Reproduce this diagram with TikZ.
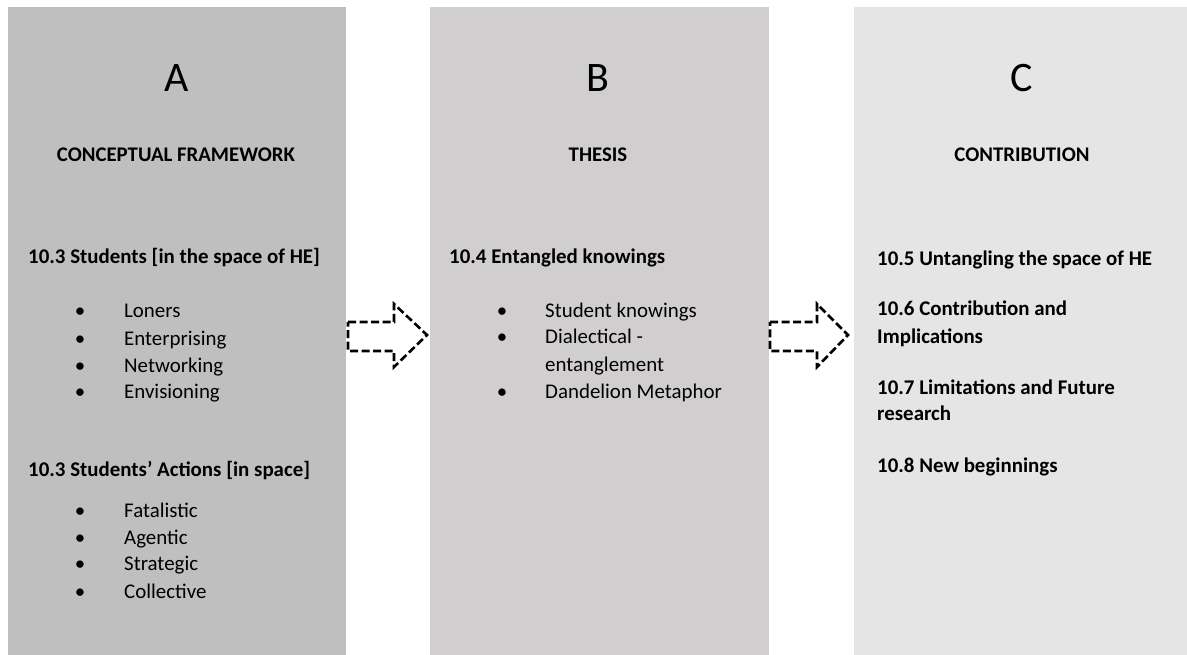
\documentclass[tikz,border=0pt]{standalone}
\usepackage{fontspec}
\setmainfont{Carlito}
\begin{document}
\begin{tikzpicture}[x=1pt,y=-1pt,
  letter/.style={font=\fontsize{42}{48}\selectfont,anchor=center,inner sep=0pt},
  title/.style={font=\fontsize{20.8}{25}\selectfont\bfseries,anchor=center,inner sep=0pt},
  head/.style={font=\fontsize{20.9}{26}\selectfont\bfseries,anchor=base west,inner sep=0pt},
  item/.style={font=\fontsize{20.9}{26}\selectfont,anchor=base west,inner sep=0pt},
  dot/.style={font=\fontsize{20.9}{26}\selectfont,anchor=base,inner sep=0pt},
  blockarrow/.style={draw=black,line width=2.6pt,dash pattern=on 8pt off 3.5pt,fill=white,line join=miter}]
\definecolor{cA}{HTML}{BFBFBF}
\definecolor{cB}{HTML}{D0CECE}
\definecolor{cC}{HTML}{E5E5E5}
\useasboundingbox (0,0) rectangle (1187,655);
\fill[white] (0,0) rectangle (1187,655);

% three columns
\fill[cA] (8,7) rectangle (346,655);
\fill[cB] (430,7) rectangle (769,655);
\fill[cC] (854,7) rectangle (1187,655);

% column A
\node[letter] (la) at (176.5,78.5) {A};
\node[title] (ta) at (176,155) {CONCEPTUAL FRAMEWORK};
\node[head] (a1) at (28,264) {10.3 Students [in the space of HE]};
\foreach \t/\y [count=\i] in {Loners/318,Enterprising/345,Networking/372,Envisioning/398}{
  \node[dot] (ab\i) at (80,\y) {\textbullet};
  \node[item] (ai\i) at (124,\y) {\t};
}
\node[head] (a2) at (28,476) {10.3 Students’ Actions [in space]};
\foreach \t/\y [count=\i] in {Fatalistic/517,Agentic/544,Strategic/570,Collective/598}{
  \node[dot] (cb\i) at (80,\y) {\textbullet};
  \node[item] (ci\i) at (124,\y) {\t};
}

% column B
\node[letter] (lb) at (598,78.5) {B};
\node[title] (tb) at (598,155) {THESIS};
\node[head] (b1) at (449,264) {10.4 Entangled knowings};
\node[dot] (bb1) at (502,317) {\textbullet};
\node[item] (bi1) at (545,317) {Student knowings};
\node[dot] (bb2) at (502,344) {\textbullet};
\node[item] (bi2) at (545,344) {Dialectical -};
\node[item] (bi3) at (545,371) {entanglement};
\node[dot] (bb3) at (502,398) {\textbullet};
\node[item] (bi4) at (545,398) {Dandelion Metaphor};

% column C
\node[letter] (lc) at (1022,78.5) {C};
\node[title] (tc) at (1022,155) {CONTRIBUTION};
\node[head] (c1) at (877,266) {10.5 Untangling the space of HE};
\node[head] (c2) at (877,316) {10.6 Contribution and};
\node[head] (c3) at (877,343) {Implications};
\node[head] (c4) at (877,394) {10.7 Limitations and Future};
\node[head] (c5) at (877,420) {research};
\node[head] (c6) at (877,472) {10.8 New beginnings};

% dashed block arrows between the columns
\draw[blockarrow] (348,322) -- (394,322) -- (394,304) -- (427,335) -- (394,367) -- (394,351) -- (348,351) -- cycle;
\draw[blockarrow] (770,322) -- (817,322) -- (817,304) -- (848,335) -- (817,367) -- (817,351) -- (770,351) -- cycle;
\end{tikzpicture}
\end{document}
